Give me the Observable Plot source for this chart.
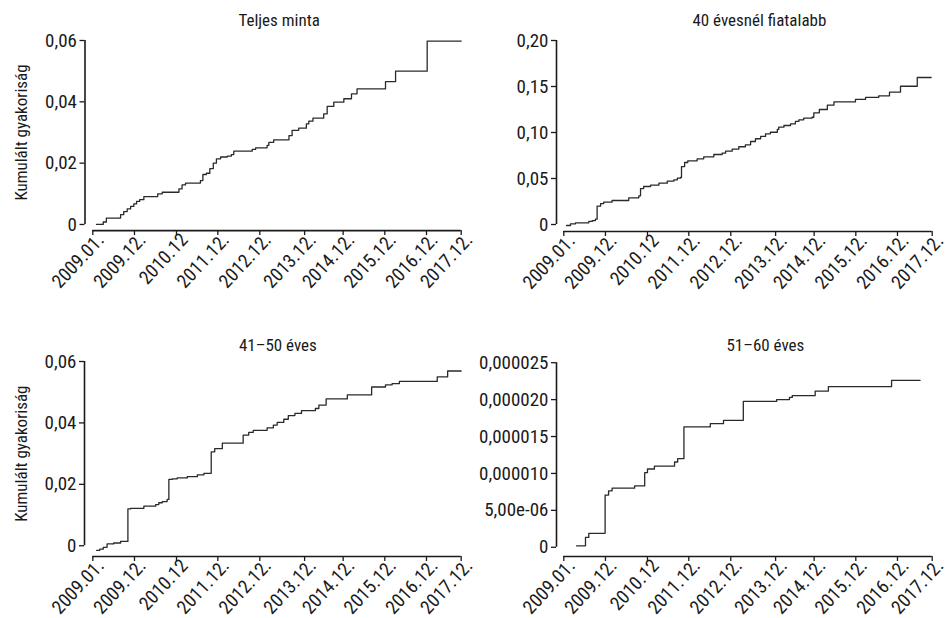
<!DOCTYPE html>
<html>
<head>
<meta charset="utf-8">
<script src="https://cdn.jsdelivr.net/npm/d3@7"></script>
<script src="https://cdn.jsdelivr.net/npm/@observablehq/plot@0.6"></script>
<style>
  html, body { margin: 0; padding: 0; background: #fff; }
  #grid { display: grid; grid-template-columns: 476px 476px; width: 952px; height: 618px; }
  #grid svg { display: block; }
</style>
</head>
<body>
<div id="grid"></div>
<script>
// x axis: months (approx.) since 2009.01 as laid out in the source figure
const xTicks = [0, 12, 24.1, 36, 48.1, 61, 72.1, 84.1, 96.1, 106.1];
const xTickLabels = ["2009.01.", "2009.12.", "2010.12", "2011.12.", "2012.12.", "2013.12.", "2014.12.", "2015.12.", "2016.12.", "2017.12."];

const yTitle = "Kumulált gyakoriság";
const titles = ["Teljes minta", "40 évesnél fiatalabb", "41–50 éves", "51–60 éves"];

// Panel 1: Teljes minta
const x1 = [1.07, 3.0, 3.9, 8.0, 8.9, 9.9, 10.9, 11.8, 12.6, 13.5, 14.7, 18.7, 20.0, 24.8, 25.7, 26.7, 31.0, 31.7, 32.7, 33.7, 34.7, 35.6, 36.8, 38.7, 39.9, 40.6, 45.9, 46.9, 50.2, 50.7, 52.1, 56.5, 57.4, 59.3, 61.5, 62.2, 63.4, 66.5, 67.5, 69.4, 72.3, 74.5, 76.1, 84.3, 87.2, 96.3, 106.1];
const y1 = [0, 0.0008, 0.0021, 0.0032, 0.0042, 0.0051, 0.0059, 0.0067, 0.0075, 0.0081, 0.0091, 0.0100, 0.0105, 0.0116, 0.0129, 0.0135, 0.0143, 0.0163, 0.0167, 0.0182, 0.0200, 0.0214, 0.0220, 0.0223, 0.0228, 0.0239, 0.0245, 0.0250, 0.0258, 0.0268, 0.0276, 0.0290, 0.0307, 0.0314, 0.0328, 0.0337, 0.0347, 0.0361, 0.0385, 0.0399, 0.0410, 0.0426, 0.0442, 0.0466, 0.0500, 0.0598, 0.0598];
const yTicks1 = [0, 0.02, 0.04, 0.06];
const yLabels1 = ["0", "0,02", "0,04", "0,06"];

// Panel 2: 40 évesnél fiatalabb
const x2 = [0.78, 1.93, 3.37, 7.2, 8.2, 9.1, 9.6, 10.6, 11.5, 13.9, 18.7, 21.6, 22.1, 23.0, 25.0, 27.4, 29.8, 31.7, 32.7, 33.6, 33.9, 34.8, 35.7, 38.4, 40.3, 43.2, 45.6, 46.6, 48.5, 50.4, 52.3, 53.8, 55.2, 56.7, 58.1, 59.5, 61.5, 61.9, 63.4, 65.3, 66.7, 67.7, 69.1, 71.5, 72.0, 73.6, 75.9, 77.8, 84.0, 86.9, 90.7, 93.8, 96.97, 101.8, 105.8];
const y2 = [-0.0011, 0.0007, 0.0018, 0.0033, 0.0043, 0.0058, 0.0199, 0.0228, 0.0243, 0.0261, 0.0290, 0.0312, 0.0391, 0.0413, 0.0428, 0.0449, 0.0471, 0.0486, 0.0504, 0.0511, 0.0630, 0.0674, 0.0692, 0.0714, 0.0736, 0.0761, 0.0775, 0.0797, 0.0819, 0.0845, 0.0866, 0.0902, 0.0932, 0.0957, 0.0986, 0.1003, 0.1033, 0.1058, 0.1076, 0.1094, 0.1120, 0.1138, 0.1156, 0.1166, 0.1214, 0.1250, 0.1297, 0.1334, 0.1359, 0.1381, 0.1399, 0.1438, 0.1503, 0.1598, 0.1598];
const yTicks2 = [0, 0.05, 0.10, 0.15, 0.20];
const yLabels2 = ["0", "0,05", "0,10", "0,15", "0,20"];

// Panel 3: 41–50 éves
const x3 = [1.07, 2.0, 3.0, 4.1, 6.0, 8.0, 10.1, 10.9, 14.7, 18.1, 19.0, 20.0, 21.4, 21.9, 22.9, 24.3, 27.2, 30.1, 32.0, 34.1, 35.1, 37.3, 43.3, 44.9, 46.2, 50.2, 52.0, 53.1, 55.0, 56.3, 58.2, 60.1, 64.1, 65.1, 67.2, 73.3, 80.3, 84.3, 86.2, 88.3, 99.2, 102.2, 106.1];
const y3 = [-0.0015, -0.0011, -0.0005, 0.0006, 0.0009, 0.0014, 0.0120, 0.0122, 0.0129, 0.0134, 0.0140, 0.0144, 0.0151, 0.0216, 0.0218, 0.0221, 0.0225, 0.0231, 0.0236, 0.0306, 0.0316, 0.0334, 0.0360, 0.0369, 0.0376, 0.0384, 0.0393, 0.0402, 0.0412, 0.0424, 0.0431, 0.0440, 0.0447, 0.0458, 0.0478, 0.0491, 0.0517, 0.0524, 0.0528, 0.0535, 0.0550, 0.0569, 0.0569];
const yTicks3 = [0, 0.02, 0.04, 0.06];
const yLabels3 = ["0", "0,02", "0,04", "0,06"];

// Panel 4: 51–60 éves
const x4 = [3.66, 6.25, 7.2, 11.9, 12.9, 13.9, 20.4, 23.3, 24.1, 26.1, 31.9, 32.8, 34.6, 42.2, 46.0, 51.7, 61.3, 65.0, 65.8, 72.4, 76.2, 94.4, 102.6];
const y4 = [0.2e-6, 1.33e-6, 1.89e-6, 7.07e-6, 7.63e-6, 8.0e-6, 8.31e-6, 10.1e-6, 10.6e-6, 11.0e-6, 11.55e-6, 12.0e-6, 16.3e-6, 16.75e-6, 17.2e-6, 19.75e-6, 20.0e-6, 20.3e-6, 20.55e-6, 21.15e-6, 21.75e-6, 22.6e-6, 22.6e-6];
const yTicks4 = [0, 5e-6, 10e-6, 15e-6, 20e-6, 25e-6];
const yLabels4 = ["0", "5,00e-06", "0,000010", "0,000015", "0,000020", "0,000025"];

const FONT = "'Liberation Sans Narrow', 'Roboto Condensed', 'DejaVu Sans Condensed', 'Arial Narrow', sans-serif";
const INK = "#1a1a1a";

function panel(cfg) {
  const data = cfg.x.map((d, i) => ({m: d, v: cfg.y[i]}));
  const labY = new Map(cfg.yTicks.map((d, i) => [d, cfg.yLabels[i]]));
  const labX = new Map(xTicks.map((d, i) => [d, xTickLabels[i]]));
  const marks = [
    Plot.axisY({ticks: cfg.yTicks, tickFormat: d => labY.get(d), tickSize: 5, tickPadding: 3, label: null, stroke: INK, strokeWidth: 1.3, fill: INK}),
    Plot.axisX({ticks: xTicks, tickFormat: d => labX.get(d), tickSize: 5, tickPadding: 2, tickRotate: -47, label: null, stroke: INK, strokeWidth: 1.3, fill: INK, fontSize: 19, textStroke: "none"}),
    Plot.ruleX([cfg.xDom[0]], {y1: cfg.yTicks[0], y2: cfg.yTicks[cfg.yTicks.length - 1], stroke: INK, strokeWidth: 1.6}),
    Plot.ruleY([cfg.yDom[0]], {x1: xTicks[0], x2: xTicks[xTicks.length - 1], stroke: INK, strokeWidth: 1.6}),
    Plot.line(data, {x: "m", y: "v", curve: "step-after", stroke: "#2a2a2a", strokeWidth: 1.3}),
    Plot.text([cfg.title], {text: d => d, frameAnchor: "top", dx: cfg.titleDx, dy: cfg.titleDy, lineAnchor: "middle", fontSize: 17, fill: INK})
  ];
  if (cfg.yTitle) {
    marks.push(Plot.text([cfg.yTitle], {text: d => d, x: cfg.xDom[0], y: cfg.yTicks[cfg.yTicks.length - 1] / 2, rotate: -90, dx: -63, lineAnchor: "middle", fontSize: 17, fill: INK}));
  }
  const svg = Plot.plot({
    width: 476, height: 309,
    marginLeft: cfg.ml, marginRight: cfg.mr, marginTop: cfg.mt, marginBottom: cfg.mb,
    x: {domain: cfg.xDom},
    y: {domain: cfg.yDom},
    style: {fontFamily: FONT, fontSize: "19px", color: INK, background: "#fff", overflow: "visible"},
    marks
  });
  // shift rotated x tick labels so that their end sits just right of the tick, below the axis line
  svg.querySelectorAll("g[aria-label='x-axis tick label'] text").forEach(t => {
    const tr = t.getAttribute("transform") || "";
    t.setAttribute("transform", "translate(8,-1) " + tr);
  });
  return svg;
}

const grid = document.getElementById("grid");
grid.append(panel({x: x1, y: y1, yTicks: yTicks1, yLabels: yLabels1, title: titles[0], yTitle,
  xDom: [-2.25, 106.1], yDom: [-0.002, 0.06], ml: 84.5, mr: 15.3, mt: 40, mb: 78.9, titleDx: 6, titleDy: -20}));
grid.append(panel({x: x2, y: y2, yTicks: yTicks2, yLabels: yLabels2, title: titles[1],
  xDom: [-2.1, 106.1], yDom: [-0.0076, 0.2], ml: 80, mr: 20.3, mt: 40, mb: 78, titleDx: 15, titleDy: -20}));
grid.append(panel({x: x3, y: y3, yTicks: yTicks3, yLabels: yLabels3, title: titles[2], yTitle,
  xDom: [-2.4, 106.1], yDom: [-0.0035, 0.06], ml: 84, mr: 15.3, mt: 52, mb: 62, titleDx: 5, titleDy: -16}));
grid.append(panel({x: x4, y: y4, yTicks: yTicks4, yLabels: yLabels4, title: titles[3],
  xDom: [-2.1, 106.1], yDom: [-1.25e-6, 25e-6], ml: 80, mr: 20.3, mt: 53.2, mb: 62, titleDx: 21, titleDy: -17}));
</script>
</body>
</html>
